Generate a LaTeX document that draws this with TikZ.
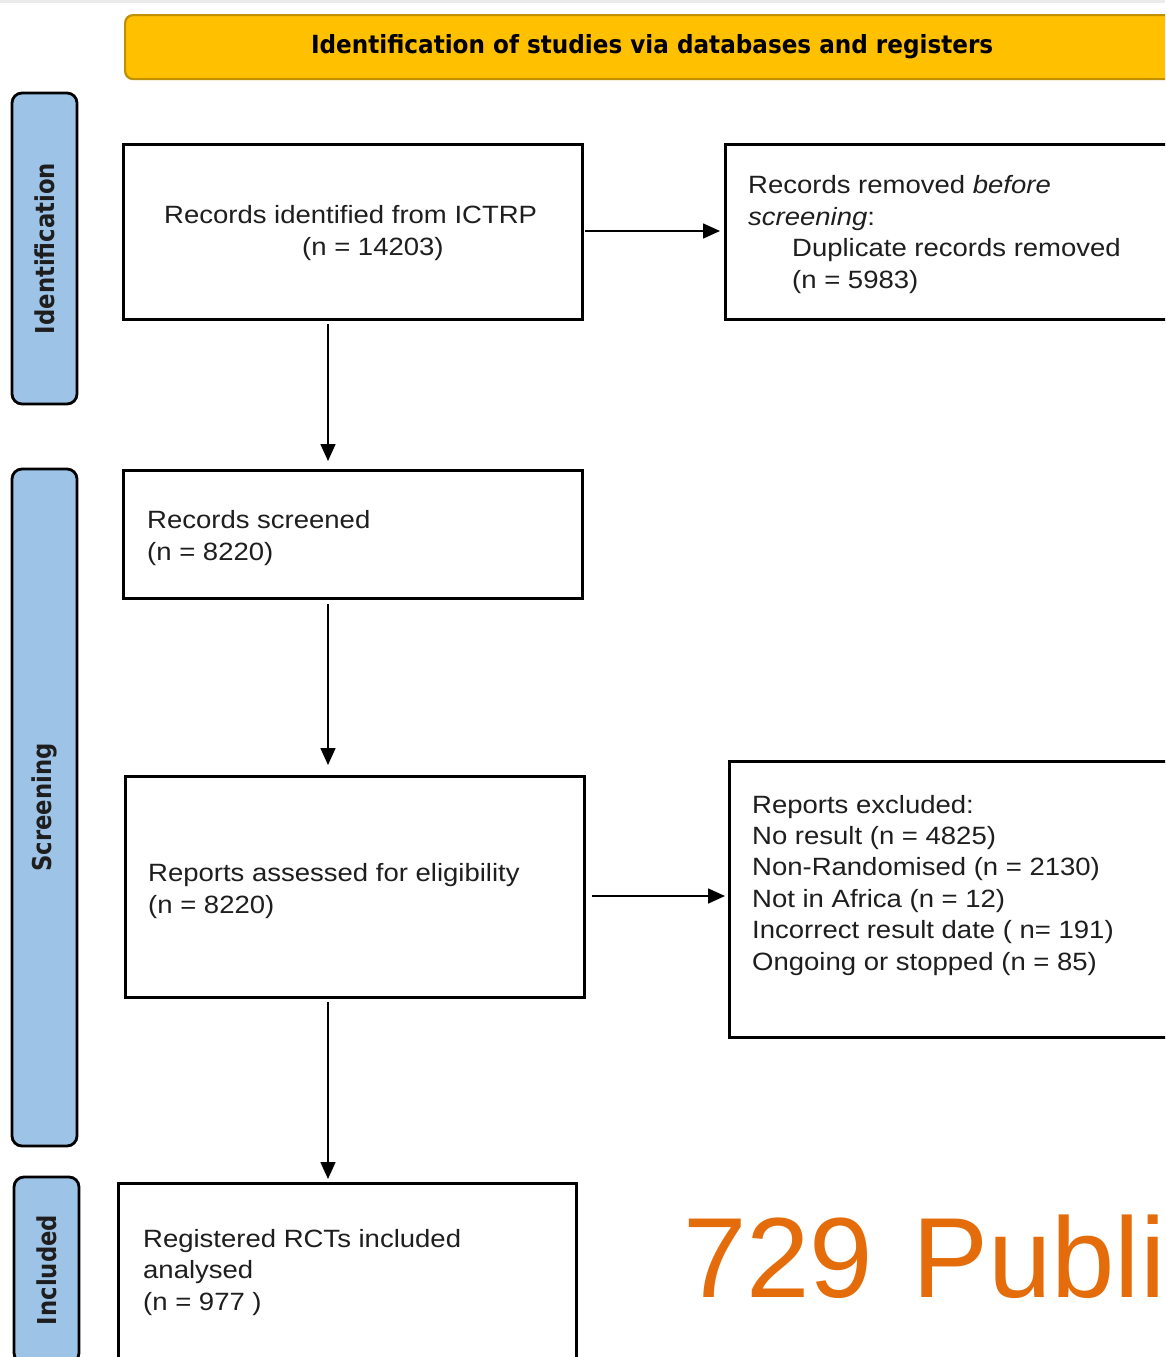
\documentclass[tikz,border=0pt]{standalone}
\usepackage{fontspec}
\setmainfont{Liberation Sans}
\newfontfamily\bodyfont[FakeStretch=1.1]{Liberation Sans}
\newfontfamily\headfont[FakeStretch=0.925]{DejaVu Sans}
\newfontfamily\sidefont[FakeStretch=0.875]{DejaVu Sans}
\newfontfamily\bigfont{Liberation Sans}
\usetikzlibrary{arrows.meta}
\definecolor{bannerfill}{HTML}{FFC000}
\definecolor{bannerline}{HTML}{BF9000}
\definecolor{sidefill}{HTML}{9DC3E6}
\definecolor{txtcol}{HTML}{1E1E1E}
\definecolor{orangetxt}{HTML}{E46C0A}
\begin{document}
\begin{tikzpicture}[x=1pt,y=-1pt,
  flowbox/.style={draw=black, line width=2.8pt, fill=white, anchor=north west, inner sep=0pt},
  sidelab/.style={draw=black, line width=2.8pt, fill=sidefill, rounded corners=10pt, rotate=90,
     minimum height=65pt, inner sep=0pt, font=\sidefont\bfseries\fontsize{26}{30}\selectfont, text=txtcol},
  txt/.style={font=\bodyfont\fontsize{25}{31.5}\selectfont, text=txtcol, align=left, anchor=base west, inner sep=0pt},
  conn/.style={draw=black, line width=1.6pt, -{Triangle[length=17pt,width=15pt]}}
]
\useasboundingbox (0,0) rectangle (1165,1357);
\clip (0,0) rectangle (1165,1357);
\fill[white] (0,0) rectangle (1165,1357);
\fill[black!8] (0,0) rectangle (1165,3);

% banner
\node[draw=bannerline, line width=2.2pt, fill=bannerfill, rounded corners=8pt, anchor=north west,
      minimum width=1054pt, minimum height=64pt, inner sep=0pt,
      font=\headfont\bfseries\fontsize{25}{30}\selectfont, text=black] (banner) at (124,14)
      {\raisebox{-2pt}{Identification of studies via databases and registers}};

% side labels
\node[sidelab, minimum width=311pt] (labid) at (44.5,248.5) {Identification};
\node[sidelab, minimum width=677pt] (labscr) at (44.5,807.5) {Screening};
\node[sidelab, minimum width=186pt] (labinc) at (46.5,1270) {Included};

% boxes
\node[flowbox, minimum width=459pt, minimum height=175pt] (box1) at (122,143) {};
\node[flowbox, minimum width=476pt, minimum height=175pt] (box2) at (724,143) {};
\node[flowbox, minimum width=459pt, minimum height=128pt] (box3) at (122,469) {};
\node[flowbox, minimum width=459pt, minimum height=221pt] (box4) at (124,775) {};
\node[flowbox, minimum width=472pt, minimum height=276pt] (box5) at (728,760) {};
\node[flowbox, minimum width=458pt, minimum height=238pt] (box6) at (117,1182) {};

% texts (anchor base = baseline of last line)
\node[txt] (t1) at (164,255) {Records identified from ICTRP\\\hspace*{138pt}(n = 14203)};
\node[txt] (t2) at (748,288) {Records removed \textit{before}\\\textit{screening}:\\\hspace*{44pt}Duplicate records removed\\\hspace*{44pt}(n = 5983)};
\node[txt] (t3) at (147,560) {Records screened\\(n = 8220)};
\node[txt] (t4) at (148,913) {Reports assessed for eligibility\\(n = 8220)};
\node[txt, font=\bodyfont\fontsize{25}{31.4}\selectfont] (t5) at (752,970) {Reports excluded:\\No result (n = 4825)\\Non-Randomised (n = 2130)\\Not in Africa (n = 12)\\Incorrect result date ( n= 191)\\Ongoing or stopped (n = 85)};
\node[txt] (t6) at (143,1310) {Registered RCTs included\\analysed\\(n = 977 )};
\node[anchor=base west, inner sep=0pt, font=\bigfont\fontsize{114}{120}\selectfont, text=orangetxt] (pub) at (683,1297) {729 \hspace{7pt}Publi};

% connectors
\coordinate (vx) at (328,0);
\coordinate (h1) at (0,231);
\coordinate (h2) at (0,896);
\draw[conn, shorten <=1pt, shorten >=4pt] (box1.east |- h1) -- (box2.west |- h1);
\draw[conn, shorten <=3pt, shorten >=8pt] (box1.south -| vx) -- (box3.north -| vx);
\draw[conn, shorten <=4pt, shorten >=10pt] (box3.south -| vx) -- (box4.north -| vx);
\draw[conn, shorten <=6pt, shorten >=3pt] (box4.east |- h2) -- (box5.west |- h2);
\draw[conn, shorten <=3pt, shorten >=3pt] (box4.south -| vx) -- (box6.north -| vx);
\end{tikzpicture}
\end{document}
